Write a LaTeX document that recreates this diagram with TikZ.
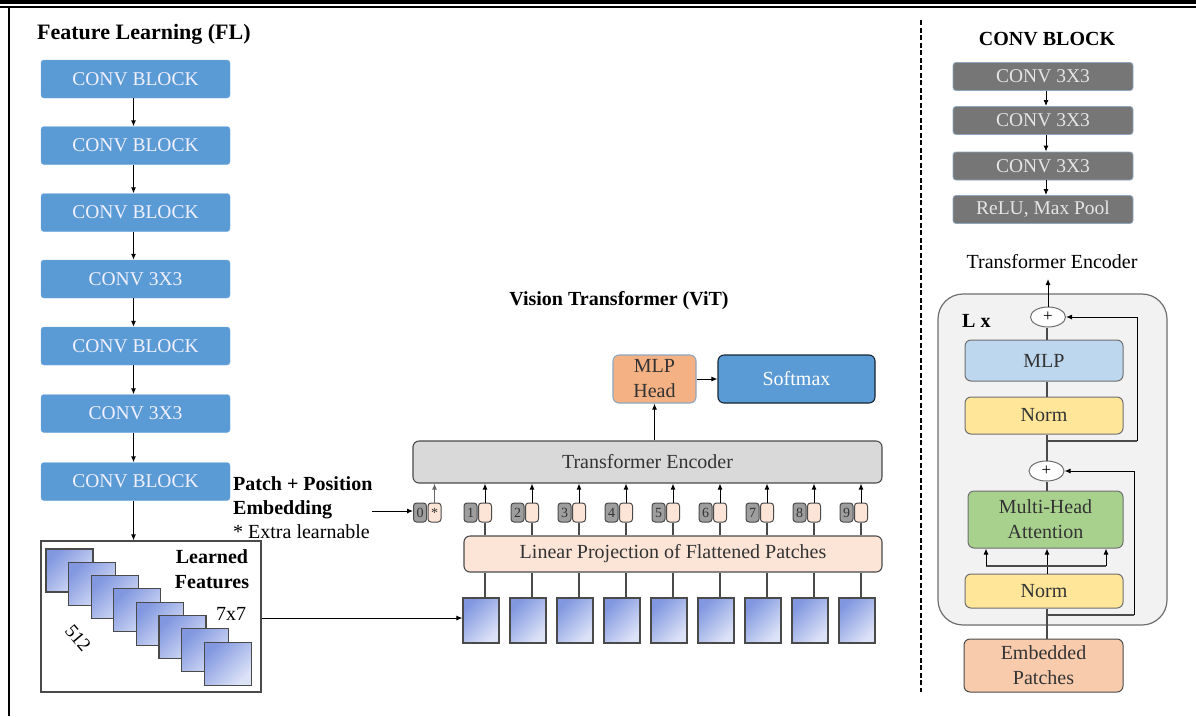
\documentclass[tikz,border=0pt]{standalone}
\usepackage{fontspec}
\setmainfont{Liberation Serif}
\usetikzlibrary{arrows.meta,shapes.geometric}

\definecolor{flblue}{HTML}{5B9BD5}
\definecolor{cbgray}{HTML}{767676}
\definecolor{cbedge}{HTML}{8FA6BF}
\definecolor{peach}{HTML}{FCE4D6}
\definecolor{headorange}{HTML}{F4B183}
\definecolor{encgray}{HTML}{D9D9D9}
\definecolor{panelgray}{HTML}{F2F2F2}
\definecolor{mlpblue}{HTML}{BDD7EE}
\definecolor{normyellow}{HTML}{FFE699}
\definecolor{attgreen}{HTML}{A9D18E}
\definecolor{embpeach}{HTML}{F8CBAD}
\definecolor{edgegray}{HTML}{4A4A4A}
\definecolor{txtdark}{HTML}{333333}
\definecolor{sqdark}{HTML}{8197E0}
\definecolor{sqlight}{HTML}{DDE3F7}

\newcommand{\bodyfont}{\fontsize{20}{24}\selectfont}
\newcommand{\headfont}{\fontsize{20}{24}\selectfont\bfseries}
\newcommand{\tokfont}{\fontsize{14}{15}\selectfont}

\tikzset{
  arr/.style={draw=black, line width=1pt, -{Latex[length=6pt,width=5pt]}},
  ln/.style={draw=edgegray, line width=1.3pt},
  flbox/.style={rectangle, rounded corners=3pt, fill=flblue, draw=flblue!85!white,
    minimum width=189pt, minimum height=38pt, inner sep=0pt,
    text=white!94!blue, font=\fontsize{19.5}{22}\selectfont},
  cbbox/.style={rectangle, rounded corners=3pt, fill=cbgray, draw=cbedge, line width=0.8pt,
    minimum width=180pt, minimum height=28pt, inner sep=0pt,
    text=white!90!black, font=\fontsize{19.5}{22}\selectfont},
  sqshade/.style={top color=sqdark, bottom color=sqlight, shading angle=45},
  featsq/.style={rectangle, draw=edgegray, line width=1.1pt, minimum width=47pt, minimum height=43pt,
    inner sep=0pt, sqshade},
  patchsq/.style={rectangle, draw=edgegray, line width=1.1pt, minimum width=36pt, minimum height=45pt,
    inner sep=0pt, sqshade},
  tokgray/.style={rectangle, rounded corners=3pt, fill=black!38, draw=edgegray, line width=1pt,
    minimum width=13pt, minimum height=19pt, inner sep=0pt, text=txtdark, font=\tokfont},
  tokpeach/.style={rectangle, rounded corners=3pt, fill=peach, draw=edgegray, line width=1pt,
    minimum width=13pt, minimum height=19pt, inner sep=0pt, text=txtdark, font=\tokfont},
  vitbox/.style={rectangle, rounded corners=6pt, draw=edgegray, line width=1.1pt, inner sep=0pt,
    text=txtdark, font=\bodyfont, align=center},
  encbox/.style={rectangle, rounded corners=6pt, draw=edgegray!80, line width=1pt, inner sep=0pt,
    text=txtdark, font=\bodyfont, align=center, minimum width=158pt},
  plus/.style={ellipse, draw=edgegray!80, fill=white, line width=1pt, minimum width=35pt,
    minimum height=20pt, inner sep=0pt, font=\fontsize{17}{17}\selectfont},
  lbl/.style={inner sep=0pt, text=black, font=\bodyfont},
  ttl/.style={inner sep=0pt, text=black, font=\headfont}
}

\begin{document}
\begin{tikzpicture}[x=1pt, y=-1pt]
\useasboundingbox (0,0) rectangle (1196,716);
\fill[white] (0,0) rectangle (1196,716);

% frame
\fill[black] (0,0) rectangle (1196,4.2);
\draw[black, line width=1.8pt] (0,6.6) -- (1196,6.6);
\draw[black, line width=2.6pt] (9,7) -- (9,716);

% ---------------- Feature Learning column ----------------
\node[ttl, font=\fontsize{22}{24}\selectfont\bfseries, anchor=base west] (fltitle) at (37,39) {Feature Learning (FL)};

\node[flbox] (fl1) at (135.5,79)    {CONV BLOCK};
\node[flbox] (fl2) at (135.5,145.5) {CONV BLOCK};
\node[flbox] (fl3) at (135.5,212.5) {CONV BLOCK};
\node[flbox] (fl4) at (135.5,279)   {CONV 3X3};
\node[flbox] (fl5) at (135.5,346)   {CONV BLOCK};
\node[flbox] (fl6) at (135.5,413.5) {CONV 3X3};
\node[flbox] (fl7) at (135.5,481.5) {CONV BLOCK};
\foreach \a/\b in {fl1/fl2,fl2/fl3,fl3/fl4,fl4/fl5,fl5/fl6,fl6/fl7}
  \draw[arr] ([xshift=-2pt]\a.south) -- ([xshift=-2pt]\b.north);

% learned feature maps
\node[rectangle, draw=edgegray, line width=1.2pt, minimum width=220pt, minimum height=151pt,
  inner sep=0pt] (lf) at (151,616.5) {};
\draw[arr] ([xshift=-2pt]fl7.south) -- ([xshift=-2pt]fl7.south |- lf.north);
\foreach \k in {0,...,7}
  \node[featsq] (fm\k) at ({69.5+22.6*\k},{570.5+13.3*\k}) {};
\node[ttl, align=center, font=\fontsize{20}{25}\selectfont\bfseries] (lftxt) at (212,569) {Learned\\Features};
\node[lbl] (dim77) at (231,614) {7x7};
\node[lbl, rotate=-50, font=\fontsize{19}{20}\selectfont] (dim512) at (78,638) {512};

% ---------------- Vision Transformer ----------------
\node[ttl, anchor=base] (vittitle) at (619,305) {Vision Transformer (ViT)};

\node[vitbox, fill=encgray, minimum width=469pt, minimum height=42pt] (te) at (647.5,462) {Transformer Encoder};
\node[vitbox, fill=headorange, draw=cbedge, minimum width=83pt, minimum height=48pt,
  font=\fontsize{20}{25}\selectfont] (mh) at (654.5,379) {MLP\\Head};
\node[vitbox, fill=flblue, draw=black!75!flblue, text=white, minimum width=157pt, minimum height=48pt] (sm) at (796.5,379) {Softmax};
\draw[arr] (te.north -| mh.south) -- (mh.south);
\draw[arr] (mh.east) -- (sm.west);

\node[vitbox, fill=peach, minimum width=418pt, minimum height=36pt] (lp) at (673,554) {Linear Projection of Flattened Patches};

% patches and tokens
\foreach \i in {1,...,9} {
  \node[patchsq] (p\i) at ({481+47*(\i-1)},620.5) {};
  \node[tokgray]  (g\i) at ({470.5+47*(\i-1)},512.5) {\i};
  \node[tokpeach] (e\i) at ({485+47*(\i-1)},512.5) {};
  \draw[ln] (e\i.south |- p\i.north) -- (e\i.south |- lp.south);
  \draw[ln] (e\i.south |- lp.north) -- (e\i.south);
  \draw[arr] (e\i.north) -- (e\i.north |- te.south);
}
\node[tokgray]  (g0) at (420,512.5) {0};
\node[tokpeach] (e0) at (434.5,512.5) {*};
\draw[arr, draw=black!60] (e0.north) -- (e0.north |- te.south);

\draw[arr] (lf.east |- 0,618) coordinate (lfout) -- (lfout -| p1.west);

% embedding labels
\node[ttl, anchor=base west] (emb1) at (233,490) {Patch + Position};
\node[ttl, anchor=base west] (emb2) at (233,514) {Embedding};
\node[lbl, anchor=base west] (emb3) at (233,538) {* Extra learnable};
\coordinate (embout) at (372,511);
\draw[arr] (embout) -- (embout -| g0.west);

% ---------------- right panel ----------------
\draw[black, line width=2pt, dash pattern=on 5pt off 2.5pt] (921,20) -- (921,692);

\node[ttl, anchor=base] (cbtitle) at (1047,45) {CONV BLOCK};
\node[cbbox] (cb1) at (1043,76.5)  {CONV 3X3};
\node[cbbox] (cb2) at (1043,120.5) {CONV 3X3};
\node[cbbox] (cb3) at (1043,166)   {CONV 3X3};
\node[cbbox] (cb4) at (1043,209.5) {ReLU, Max Pool};
\foreach \a/\b in {cb1/cb2,cb2/cb3,cb3/cb4}
  \draw[arr] ([xshift=3pt]\a.south) -- ([xshift=3pt]\b.north);

\node[lbl, anchor=base] (tetitle) at (1052,268) {Transformer Encoder};

\node[rectangle, rounded corners=25pt, fill=panelgray, draw=edgegray!80, line width=1.2pt,
  minimum width=229pt, minimum height=331pt, inner sep=0pt] (ct) at (1052.5,459.5) {};
\node[ttl, anchor=base west] (lx) at (962,327) {L x};

\node[plus] (pa) at (1048,317) {+};
\node[encbox, fill=mlpblue, minimum height=41pt] (mlp) at (1044,360.5) {MLP};
\node[encbox, fill=normyellow, minimum height=37pt] (n2) at (1044,415.5) {Norm};
\node[plus] (pb) at (1046.5,471) {+};
\node[encbox, fill=attgreen, minimum width=155pt, minimum height=57pt,
  font=\fontsize{20}{25}\selectfont] (mha) at (1045.5,519.5) {Multi-Head\\Attention};
\node[encbox, fill=normyellow, minimum height=34pt] (n1) at (1044,591) {Norm};
\node[encbox, fill=embpeach, draw=edgegray, minimum width=159pt, minimum height=53pt,
  font=\fontsize{20}{25}\selectfont] (ep) at (1043.5,665.5) {Embedded\\Patches};

% main path
\coordinate (teout) at (1048,279);
\draw[ln] (ep.north -| 1047,0) -- (n1.south -| 1047,0);
\draw[arr] (n1.north -| 1047,0) -- (mha.south -| 1047,0);
\draw[ln] (mha.north -| 1047,0) -- (pb.south -| 1047,0);
\draw[ln] (pb.north -| 1047,0) -- (n2.south -| 1047,0);
\draw[ln] (n2.north -| 1047,0) -- (mlp.south -| 1047,0);
\draw[ln] (mlp.north -| 1047,0) -- (pa.south -| 1047,0);
\draw[arr] (pa.north -| 1048,0) -- (teout);

% attention inputs
\coordinate (qk1) at (986,566);
\coordinate (qk2) at (1106,566);
\draw[ln] (qk1) -- (qk2);
\draw[arr] (qk1) -- (qk1 |- mha.south);
\draw[arr] (qk2) -- (qk2 |- mha.south);

% residual connections
\coordinate (ra) at (1047,615);
\coordinate (rac) at (1134,615);
\draw[ln] (ra) -- (rac);
\draw[arr] (rac) |- (pb.east);
\coordinate (rb) at (1047,441);
\coordinate (rbc) at (1137,441);
\draw[ln] (rb) -- (rbc);
\draw[arr] (rbc) |- (pa.east);
\end{tikzpicture}
\end{document}
